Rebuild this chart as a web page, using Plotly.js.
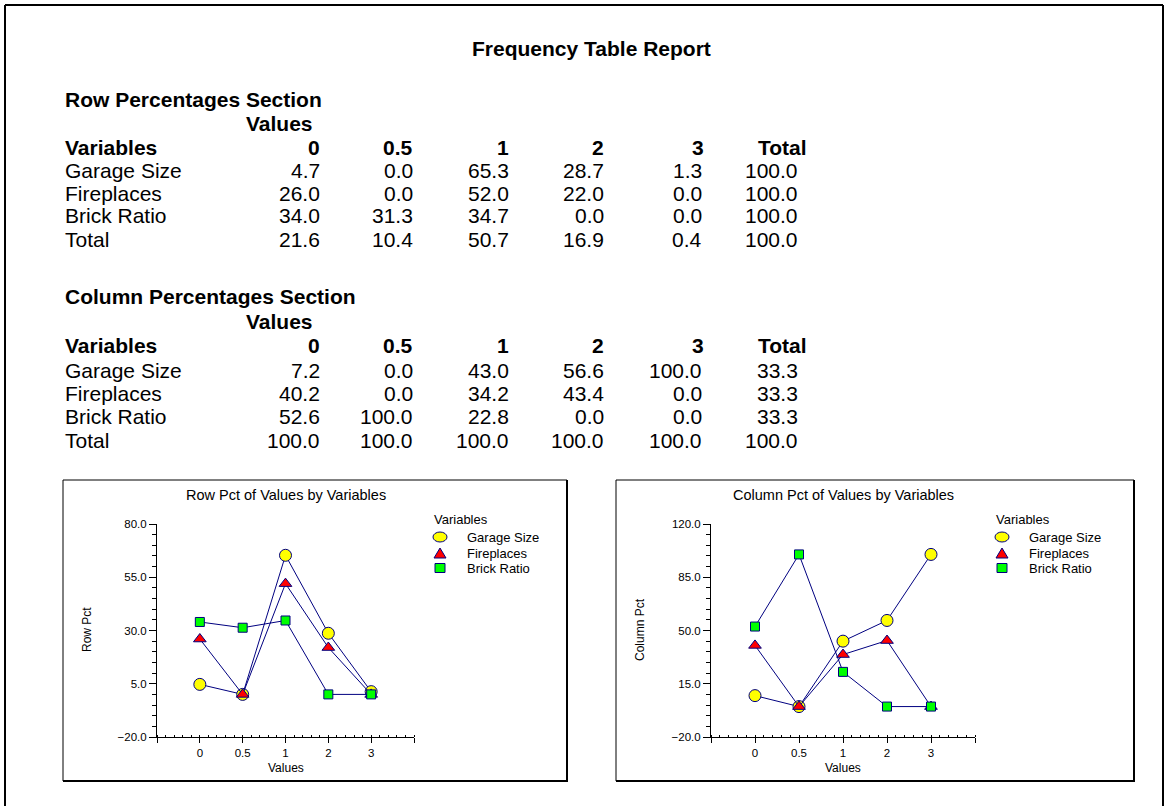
<!DOCTYPE html>
<html>
<head>
<meta charset="utf-8">
<script src="https://cdn.plot.ly/plotly-3.0.1.min.js"></script>
<style>
html,body{margin:0;padding:0;background:#fff;overflow:hidden}
#chart{width:1165px;height:806px}
</style>
</head>
<body>
<div id="chart"></div>
<script>
// ---------- data ----------
const reportTitle = "Frequency Table Report";
const valueLabels = ["0", "0.5", "1", "2", "3"];
const variables = ["Garage Size", "Fireplaces", "Brick Ratio"];
const rowLabels = ["Garage Size", "Fireplaces", "Brick Ratio", "Total"];

// Row Percentages Section
const rowGarage = [4.7, 0.0, 65.3, 28.7, 1.3];
const rowFire   = [26.0, 0.0, 52.0, 22.0, 0.0];
const rowBrick  = [34.0, 31.3, 34.7, 0.0, 0.0];
const rowTotal  = [21.6, 10.4, 50.7, 16.9, 0.4];
const rowTotalColumn = [100.0, 100.0, 100.0, 100.0];

// Column Percentages Section
const colGarage = [7.2, 0.0, 43.0, 56.6, 100.0];
const colFire   = [40.2, 0.0, 34.2, 43.4, 0.0];
const colBrick  = [52.6, 100.0, 22.8, 0.0, 0.0];
const colTotal  = [100.0, 100.0, 100.0, 100.0, 100.0];
const colTotalColumn = [33.3, 33.3, 33.3, 100.0];

// ---------- helpers ----------
const W = 1165, H = 806;
const FONT = "Arial, 'Liberation Sans', sans-serif";
const px = v => v / W;
const py = v => 1 - v / H;

const annotations = [];
const shapes = [];

function txt(text, x, y, xanchor, size, extra) {
  annotations.push(Object.assign({
    text: text, x: px(x), y: py(y), xref: "paper", yref: "paper",
    xanchor: xanchor, yanchor: "middle", showarrow: false,
    font: {family: FONT, size: size, color: "#000"}
  }, extra || {}));
}

// ---------- report tables ----------
const TS = 21;
txt("<b>" + reportTitle + "</b>", 591, 48, "center", TS);

const numRight = [322, 415, 511, 606, 704, 800];
const headRight = [322, 415, 511, 606, 706, 809];

function table(sectionTitle, ys, series, totalRow, totalCol) {
  txt("<b>" + sectionTitle + "</b>", 63, ys[0], "left", TS);
  txt("<b>Values</b>", 244, ys[1], "left", TS);
  txt("<b>Variables</b>", 63, ys[2], "left", TS);
  valueLabels.concat(["Total"]).forEach((h, j) => txt("<b>" + h + "</b>", headRight[j], ys[2], "right", TS));
  const rows = series.concat([totalRow]);
  rows.forEach((vals, i) => {
    const y = ys[3 + i];
    txt(rowLabels[i], 63, y, "left", TS);
    vals.forEach((v, j) => txt(v.toFixed(1), numRight[j], y, "right", TS));
    txt(totalCol[i].toFixed(1), numRight[5], y, "right", TS);
  });
}
table("Row Percentages Section", [99, 123, 147, 170, 193, 216, 240],
      [rowGarage, rowFire, rowBrick], rowTotal, rowTotalColumn);
table("Column Percentages Section", [296, 321, 346, 370, 393, 416, 440],
      [colGarage, colFire, colBrick], colTotal, colTotalColumn);

// ---------- frames ----------
function line(x0, y0, x1, y1, w) {
  shapes.push({type: "line", xref: "paper", yref: "paper", x0: px(x0), y0: py(y0), x1: px(x1), y1: py(y1),
               line: {color: "#000", width: w}});
}
// outer frame
line(5, 5, 1163, 5, 2);
line(5, 5, 5, 830, 2);
line(1163, 5, 1163, 830, 2);
// chart boxes (with heavier right/bottom edges)
function box(l, t, r, b) {
  line(l, t, r, t, 1);
  line(l, t, l, b, 1);
  line(r, t, r, b + 1, 2);
  line(l, b, r + 1, b, 2);
}
box(63, 480, 567, 781);
box(616, 480, 1134, 781);

// ---------- charts ----------
const markerStyles = [
  {symbol: "circle", size: 12, color: "#FFFF00"},
  {symbol: "triangle-up", size: 11, color: "#FF0000"},
  {symbol: "square", size: 9, color: "#00FF00"}
];
const NAVY = "#000080";
const xIdx = valueLabels.map((_, i) => i);

const traces = [];
function addTraces(seriesList, xa, ya) {
  seriesList.forEach((vals, k) => {
    traces.push({
      type: "scatter", mode: "lines+markers", name: variables[k],
      x: xIdx, y: vals, xaxis: xa, yaxis: ya, showlegend: false,
      line: {color: NAVY, width: 1},
      marker: {symbol: markerStyles[k].symbol, size: markerStyles[k].size,
               color: markerStyles[k].color, line: {color: NAVY, width: 1}},
      cliponaxis: false,
      hovertemplate: variables[k] + ": %{y:.1f}<extra></extra>"
    });
  });
}
addTraces([rowGarage, rowFire, rowBrick], "x", "y");
addTraces([colGarage, colFire, colBrick], "x2", "y2");

function legendBlock(left, top) {
  txt("Variables", left, top, "left", 13);
  const ys = [top + 18, top + 34, top + 49];
  const cx = left + 8;
  variables.forEach((v, k) => {
    txt(v, left + 33, ys[k], "left", 13);
    const y = ys[k];
    const st = {fillcolor: markerStyles[k].color, line: {color: NAVY, width: 1}, xref: "paper", yref: "paper"};
    if (k === 0) {
      shapes.push(Object.assign({type: "circle", x0: px(cx - 7), x1: px(cx + 7), y0: py(y - 5), y1: py(y + 5)}, st));
    } else if (k === 1) {
      shapes.push(Object.assign({type: "path",
        path: `M ${px(cx - 6)},${py(y + 5)} L ${px(cx + 6)},${py(y + 5)} L ${px(cx)},${py(y - 5)} Z`}, st));
    } else {
      shapes.push(Object.assign({type: "rect", x0: px(cx - 5), x1: px(cx + 5), y0: py(y - 4.5), y1: py(y + 4.5)}, st));
    }
  });
}

function chartText(title, ytitle, xl, xr, legendLeft, yTitleX) {
  const cx = (xl + xr) / 2;
  txt(title, cx, 495, "center", 14.5);
  txt("Values", cx, 768, "center", 12);
  annotations.push({text: ytitle, x: px(yTitleX), y: py(630), xref: "paper", yref: "paper",
    xanchor: "center", yanchor: "middle", textangle: -90, showarrow: false,
    font: {family: FONT, size: 12, color: "#000"}});
  legendBlock(legendLeft, 519);
}
chartText("Row Pct of Values by Variables", "Row Pct", 157, 414, 432, 87);
chartText("Column Pct of Values by Variables", "Column Pct", 711, 975, 994, 640);

function xAxis(l, r, anchor) {
  return {
    domain: [px(l), px(r)], anchor: anchor, range: [-1, 5],
    tickmode: "array", tickvals: [-1, 0, 1, 2, 3, 4, 5], ticktext: [""].concat(valueLabels, [""]),
    ticks: "outside", ticklen: 5, tickcolor: "#000", tickwidth: 1,
    showline: true, linecolor: "#000", linewidth: 1,
    showgrid: false, zeroline: false, fixedrange: true,
    tickfont: {family: FONT, size: 11.5, color: "#000"},
    minor: {tick0: 0, dtick: 0.2, ticks: "inside", ticklen: 2, tickcolor: "#000", showgrid: false}
  };
}
function yAxis(lo, hi, dt, mdt, anchor) {
  return {
    domain: [py(737), py(524)], anchor: anchor, range: [lo, hi],
    tickmode: "linear", tick0: lo, dtick: dt, tickformat: ".1f",
    ticks: "outside", ticklen: 7, tickcolor: "#000",
    showline: true, linecolor: "#000", linewidth: 1,
    showgrid: false, zeroline: false, fixedrange: true,
    tickfont: {family: FONT, size: 11.5, color: "#000"},
    minor: {tick0: lo, dtick: mdt, ticks: "outside", ticklen: 4, tickcolor: "#000", showgrid: false}
  };
}

const layout = {
  width: W, height: H,
  margin: {l: 0, r: 0, t: 0, b: 0},
  paper_bgcolor: "#fff", plot_bgcolor: "rgba(0,0,0,0)",
  font: {family: FONT, color: "#000"},
  showlegend: false,
  xaxis: xAxis(157, 414, "y"),
  yaxis: yAxis(-20, 80, 25, 5, "x"),
  xaxis2: xAxis(711, 975, "y2"),
  yaxis2: yAxis(-20, 120, 35, 7, "x2"),
  annotations: annotations,
  shapes: shapes
};

Plotly.newPlot("chart", traces, layout, {displayModeBar: false, staticPlot: true});
</script>
</body>
</html>
